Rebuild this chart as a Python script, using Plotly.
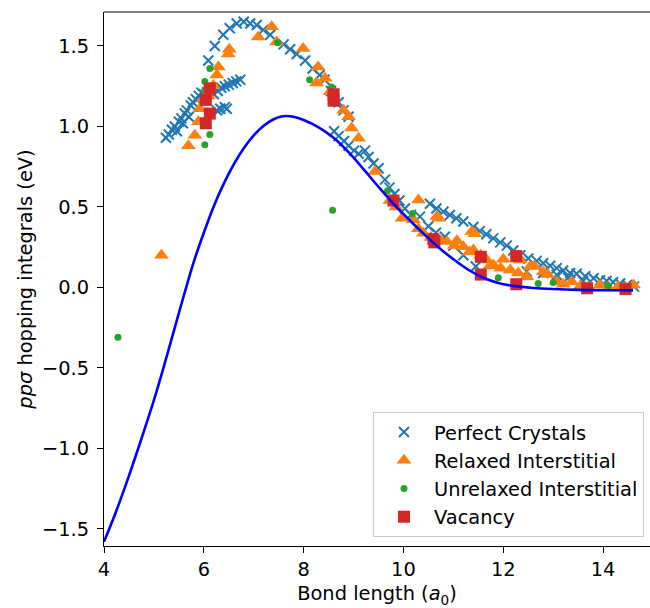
import plotly.graph_objects as go

# ---- fitted curve ----
curve_x = [4.0, 4.25, 4.5, 4.75, 5.0, 5.2, 5.4, 5.6, 5.8, 6.0, 6.2, 6.4, 6.6, 6.8, 7.0, 7.2, 7.4,
           7.55, 7.65, 7.8, 8.0, 8.3, 8.6, 8.9, 9.2, 9.5, 9.8, 10.1, 10.4, 10.7, 11.0, 11.3, 11.6,
           11.9, 12.2, 12.6, 13.0, 13.5, 14.0, 14.6]
curve_y = [-1.58, -1.385, -1.17, -0.94, -0.70, -0.49, -0.27, -0.05, 0.16, 0.34, 0.505, 0.645,
           0.765, 0.865, 0.945, 1.005, 1.045, 1.062, 1.065, 1.06, 1.04, 0.995, 0.93, 0.84, 0.735,
           0.625, 0.52, 0.425, 0.335, 0.25, 0.175, 0.11, 0.06, 0.028, 0.01, -0.003, -0.01,
           -0.015, -0.017, -0.018]

# ---- Perfect Crystals ----
pc_x = [5.24, 5.30, 5.36, 5.42, 5.46, 5.50, 5.55, 5.58, 5.62, 5.66, 5.70, 5.74, 5.78, 5.84, 5.90,
        5.95, 6.00, 6.20, 6.28, 6.35, 6.42, 6.50, 6.58, 6.65, 6.73, 6.26, 6.33, 6.42, 6.46,
        6.09, 6.22, 6.39, 6.52, 6.66, 6.80, 6.93, 7.06, 7.19, 7.33, 7.60, 7.73, 7.86, 8.03,
        8.18, 8.32, 8.42, 8.55, 8.70, 8.80, 8.90,
        8.61, 8.70, 8.81, 8.90, 9.01, 9.10, 9.23, 9.30, 9.40, 9.50, 9.63, 9.72, 9.82, 9.92,
        10.03, 10.15, 10.33, 10.50, 10.65, 10.83, 11.0, 11.2, 11.45,
        10.53, 10.66, 10.80, 10.93, 11.06, 11.20, 11.40, 11.53, 11.66, 11.80, 11.94, 12.07,
        12.20, 12.34, 12.50, 12.67, 12.80, 12.94, 13.07, 13.20, 13.34, 13.47, 13.64, 13.81,
        13.94, 14.07, 14.20, 14.34, 14.48, 14.62,
        12.47, 12.80, 13.07, 13.30, 13.60]
pc_y = [0.93, 0.95, 0.98, 1.00, 0.97, 1.03, 1.05, 1.02, 1.08, 1.10, 1.06, 1.13, 1.15, 1.17, 1.19,
        1.21, 1.20, 1.20, 1.22, 1.24, 1.25, 1.26, 1.27, 1.28, 1.29, 1.10, 1.11, 1.12, 1.11,
        1.41, 1.50, 1.57, 1.61, 1.64, 1.65, 1.64, 1.63, 1.60, 1.57, 1.51, 1.48, 1.45, 1.41,
        1.36, 1.32, 1.29, 1.22, 1.15, 1.10, 1.06,
        0.97, 0.94, 0.91, 0.88, 0.85, 0.83, 0.85, 0.81, 0.77, 0.74, 0.67, 0.62, 0.58, 0.54,
        0.49, 0.45, 0.44, 0.38, 0.34, 0.315, 0.26, 0.20, 0.13,
        0.52, 0.49, 0.47, 0.45, 0.43, 0.41, 0.375, 0.35, 0.33, 0.305, 0.28, 0.26,
        0.23, 0.20, 0.18, 0.165, 0.15, 0.135, 0.12, 0.105, 0.09, 0.085, 0.07, 0.057,
        0.045, 0.04, 0.032, 0.025, 0.015, 0.005,
        0.10, 0.09, 0.078, 0.06, 0.04]

# ---- Relaxed Interstitial ----
ri_x = [5.15, 5.69, 5.82, 5.89, 5.92, 5.99, 6.09, 6.19, 6.26, 6.29, 6.49, 6.51, 7.09, 7.36, 7.46,
        7.99, 8.29, 8.26, 8.43, 8.53, 8.80, 8.90, 8.96, 9.10, 9.43, 9.73, 9.85, 9.97, 10.2,
        10.30, 10.30, 10.40, 10.55, 10.67, 10.71, 10.75, 10.87, 11.02, 11.07, 11.2, 11.32, 11.37,
        11.43, 11.40, 11.55, 11.67, 11.73, 11.8, 11.95, 12.0, 12.14, 12.3, 12.34, 12.54, 12.47,
        12.62, 12.8, 12.89, 13.07, 13.2, 13.37, 13.55, 13.7, 13.94, 14.1, 14.3, 14.45, 14.61]
ri_y = [0.20, 0.88, 0.945, 1.03, 1.11, 1.17, 1.19, 1.255, 1.32, 1.37, 1.45, 1.48, 1.556, 1.62,
        1.525, 1.485, 1.37, 1.27, 1.30, 1.215, 1.10, 1.06, 0.99, 0.927, 0.72, 0.54, 0.50, 0.43,
        0.42, 0.543, 0.365, 0.337, 0.31, 0.44, 0.43, 0.29, 0.285, 0.26, 0.29, 0.253, 0.22, 0.347,
        0.333, 0.233, 0.20, 0.17, 0.134, 0.14, 0.12, 0.175, 0.109, 0.09, 0.17, 0.13, 0.067,
        0.133, 0.098, 0.08, 0.036, 0.02, 0.036, 0.01, 0.0, 0.016, 0.0, 0.005, 0.0, 0.016]

# ---- Unrelaxed Interstitial ----
ui_x = [4.28, 6.02, 6.02, 6.12, 6.12, 6.02, 7.48, 8.12, 8.56, 8.58, 9.68, 10.18, 11.9,
        12.7, 13.0, 14.1]
ui_y = [-0.31, 0.887, 1.28, 1.36, 0.95, 1.23, 1.52, 1.29, 1.245, 0.48, 0.60, 0.46, 0.06,
        0.025, 0.03, 0.01]

# ---- Vacancy ----
va_x = [6.12, 6.04, 6.12, 6.04, 8.60, 8.60, 9.80, 10.60, 10.62, 11.55, 11.55, 12.26, 12.26,
        13.68, 14.45]
va_y = [1.237, 1.165, 1.08, 1.02, 1.20, 1.16, 0.54, 0.30, 0.28, 0.19, 0.08, 0.195, 0.02,
        -0.005, -0.01]

x_ticks = [4, 6, 8, 10, 12, 14]
y_ticks = [-1.5, -1.0, -0.5, 0.0, 0.5, 1.0, 1.5]

FONT = "DejaVu Sans"
FS = 19.4

fig = go.Figure()
fig.add_trace(go.Scatter(x=pc_x, y=pc_y, mode="markers", name="Perfect Crystals",
                         legendgroup="a",
                         marker=dict(symbol="x-thin", size=10, color="#1f77b4",
                                     line=dict(width=2, color="#1f77b4"))))
fig.add_trace(go.Scatter(x=ri_x, y=ri_y, mode="markers", name="Relaxed Interstitial",
                         legendgroup="b",
                         marker=dict(symbol="triangle-up", size=13, color="#ff7f0e",
                                     line=dict(width=0))))
fig.add_trace(go.Scatter(x=ui_x, y=ui_y, mode="markers", name="Unrelaxed Interstitial",
                         legendgroup="c",
                         marker=dict(symbol="circle", size=7, color="#2ca02c",
                                     line=dict(width=0))))
fig.add_trace(go.Scatter(x=va_x, y=va_y, mode="markers", name="Vacancy",
                         legendgroup="d",
                         marker=dict(symbol="square", size=12, color="#d62728",
                                     line=dict(width=0))))
fig.add_trace(go.Scatter(x=curve_x, y=curve_y, mode="lines", line_shape="spline",
                         showlegend=False, line=dict(color="#0000ff", width=2.6)))

axis_common = dict(showline=True, linecolor="black", linewidth=1.2, mirror=False,
                   ticks="outside", ticklen=6, tickwidth=1.2, tickcolor="black",
                   showgrid=False, zeroline=False,
                   tickfont=dict(family=FONT, size=FS, color="black"))

fig.update_layout(
    width=650, height=608,
    margin=dict(l=104, r=0, t=12, b=62),
    plot_bgcolor="white", paper_bgcolor="white",
    font=dict(family=FONT, size=FS, color="black"),
    xaxis=dict(range=[4, 14.94], tickvals=x_ticks, ticklabelstandoff=0,
               title=dict(text="Bond length (<i>a</i><sub>0</sub>)", standoff=6,
                          font=dict(family=FONT, size=FS)),
               **axis_common),
    yaxis=dict(range=[-1.606, 1.711], tickvals=y_ticks, ticklabelstandoff=4,
               tickformat=".1f",
               title=dict(text="<i>ppσ</i> hopping integrals (eV)", standoff=4,
                          font=dict(family=FONT, size=FS)),
               **axis_common),
    legend=dict(x=0.989, y=0.017, xanchor="right", yanchor="bottom",
                bgcolor="white", bordercolor="#cccccc", borderwidth=1,
                font=dict(family=FONT, size=FS), itemwidth=50,
                traceorder="grouped", tracegroupgap=0),
    showlegend=True,
    shapes=[dict(type="line", xref="paper", yref="paper", x0=0, x1=1, y0=1, y1=1,
                 line=dict(color="black", width=1.2))],
)

fig.write_html("out.html")
